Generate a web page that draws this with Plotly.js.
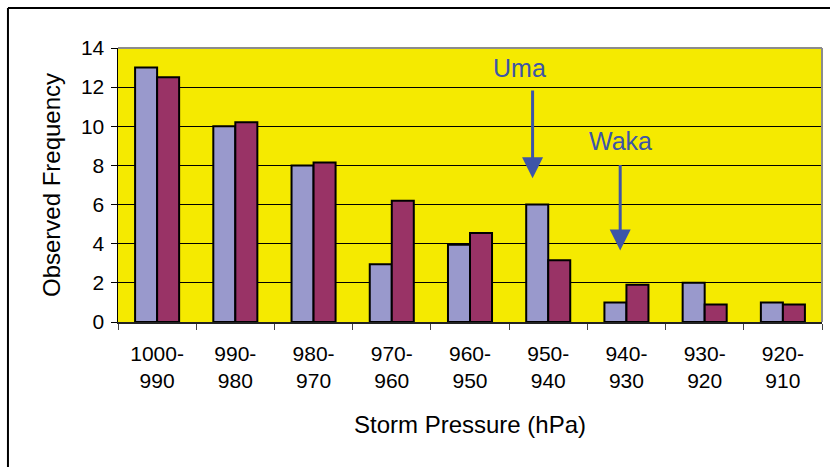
<!DOCTYPE html>
<html>
<head>
<meta charset="utf-8">
<script src="https://cdn.plot.ly/plotly-3.0.1.min.js"></script>
<style>
  html, body { margin: 0; padding: 0; background: #ffffff; }
  #chart { width: 830px; height: 467px; }
</style>
</head>
<body>
<div id="chart"></div>
<script>
// Pressure bins (hPa), from weakest to deepest storms
const pressureBins = ["1000-<br>990", "990-<br>980", "980-<br>970", "970-<br>960", "960-<br>950",
                      "950-<br>940", "940-<br>930", "930-<br>920", "920-<br>910"];

// Observed frequency per bin for the two series
const seriesOne = [13, 10, 8, 2.95, 3.95, 6, 1, 2, 1];
const seriesTwo = [12.5, 10.2, 8.15, 6.2, 4.55, 3.15, 1.9, 0.9, 0.9];

const yTicks = [0, 2, 4, 6, 8, 10, 12, 14];

// Named storms marked with arrows: bin index, offset within bin, tail and tip heights
const storms = [
  { name: "Uma",  bin: 5, offset: -0.2,  tail: 11.9, tip: 7.35, label: 13.0, labelShift: -0.17 },
  { name: "Waka", bin: 6, offset: -0.08, tail: 8.1,  tip: 3.65, label: 9.25, labelShift: 0 }
];

const FONT = "Liberation Sans, Arial, Helvetica, sans-serif";
const ARROW_BLUE = "#3d55a8";

const traces = [
  {
    type: "bar", name: "Series 1", x: pressureBins, y: seriesOne,
    marker: { color: "#9999cc", line: { color: "#000000", width: 2 } },
    hoverinfo: "skip"
  },
  {
    type: "bar", name: "Series 2", x: pressureBins, y: seriesTwo,
    marker: { color: "#993366", line: { color: "#000000", width: 2 } },
    hoverinfo: "skip"
  }
];

const annotations = [];
storms.forEach(s => {
  const xPos = s.bin + s.offset;
  annotations.push({
    xref: "x", yref: "y", x: xPos, y: s.tip,
    axref: "x", ayref: "y", ax: xPos, ay: s.tail,
    text: "", showarrow: true,
    arrowhead: 2, arrowsize: 1.4, arrowwidth: 3, arrowcolor: ARROW_BLUE
  });
  annotations.push({
    xref: "x", yref: "y", x: xPos + s.labelShift, y: s.label,
    text: s.name, showarrow: false,
    font: { family: FONT, size: 25, color: ARROW_BLUE },
    xanchor: "center", yanchor: "middle"
  });
});

const layout = {
  width: 830, height: 467,
  margin: { l: 118, r: 8, t: 48, b: 145 },
  paper_bgcolor: "#ffffff",
  plot_bgcolor: "#f5ea00",
  showlegend: false,
  barmode: "group",
  bargap: 0.437,
  bargroupgap: 0,
  font: { family: FONT, color: "#000000" },
  xaxis: {
    type: "category",
    tickson: "boundaries",
    ticks: "outside", ticklen: 6, tickwidth: 1, tickcolor: "#444444",
    ticklabelstandoff: 12,
    showline: true, linecolor: "#222222", linewidth: 1.5,
    showgrid: false, zeroline: false,
    tickfont: { family: FONT, size: 21, color: "#000000" },
    title: { text: "Storm Pressure (hPa)", font: { family: FONT, size: 24, color: "#000000" }, standoff: 25 }
  },
  yaxis: {
    range: [0, 14],
    tickvals: yTicks,
    ticks: "outside", ticklen: 6, tickwidth: 1, tickcolor: "#000000",
    ticklabelstandoff: 2,
    showline: true, linecolor: "#000000", linewidth: 1.5,
    showgrid: true, gridcolor: "#000000", gridwidth: 1,
    zeroline: false,
    tickfont: { family: FONT, size: 21, color: "#000000" },
    title: { text: "Observed Frequency", font: { family: FONT, size: 24, color: "#000000" }, standoff: 13 }
  },
  annotations: annotations,
  shapes: [
    // plot area top and right edges
    { type: "line", xref: "paper", yref: "paper", x0: 0, x1: 1, y0: 1, y1: 1,
      line: { color: "#8c8c8c", width: 2 }, layer: "above" },
    { type: "line", xref: "paper", yref: "paper", x0: 1, x1: 1, y0: 0, y1: 1,
      line: { color: "#8c8c8c", width: 2 }, layer: "above" },
    // outer chart frame (top and left edges)
    { type: "line", xref: "paper", yref: "paper", x0: -0.1563, x1: 1.05, y0: 1.146, y1: 1.146,
      line: { color: "#000000", width: 2 }, layer: "above" },
    { type: "line", xref: "paper", yref: "paper", x0: -0.1563, x1: -0.1563, y0: 1.146, y1: -0.6,
      line: { color: "#000000", width: 2 }, layer: "above" }
  ]
};

Plotly.newPlot("chart", traces, layout, { displayModeBar: false, staticPlot: true });
</script>
</body>
</html>
